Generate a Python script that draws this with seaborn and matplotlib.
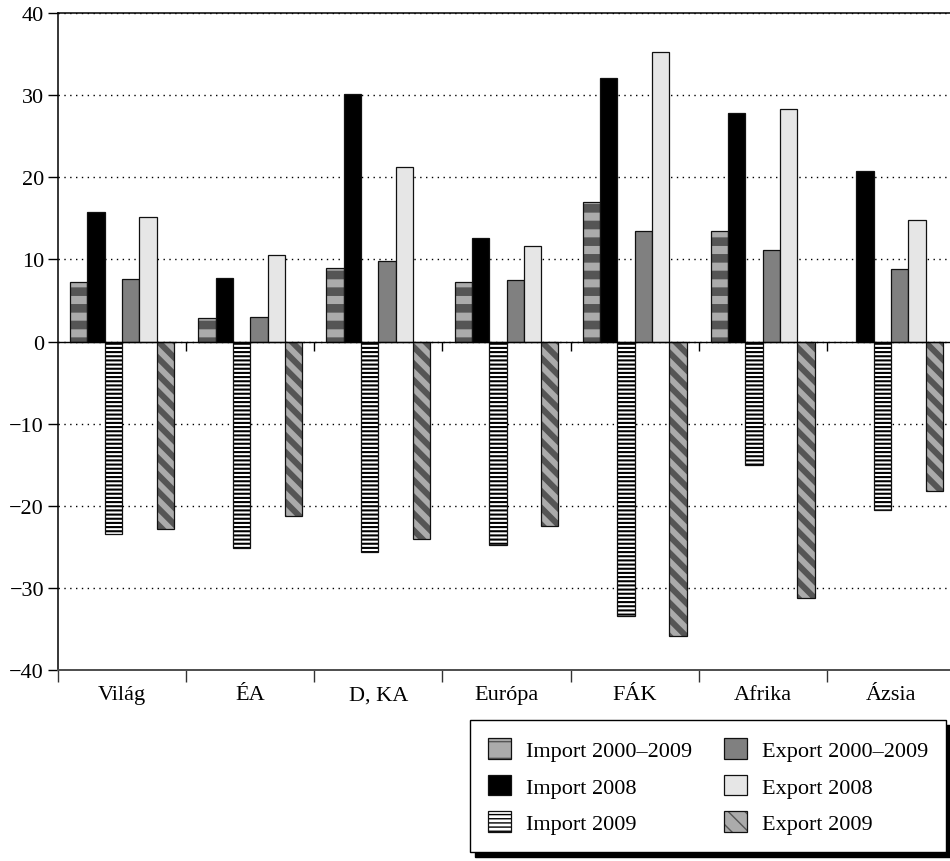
import numpy as np
import pandas as pd
import matplotlib
matplotlib.use("Agg")
import matplotlib.pyplot as plt
from matplotlib.patches import Patch
import seaborn as sns

# Regions and series (annual change, %)
regions = ["Világ", "ÉA", "D, KA", "Európa", "FÁK", "Afrika", "Ázsia"]
series = ["Import 2000–2009", "Import 2008", "Import 2009",
          "Export 2000–2009", "Export 2008", "Export 2009"]

import_2000_2009 = [7.3, 2.9, 8.9, 7.2, 17.0, 13.5, np.nan]
import_2008 = [15.8, 7.7, 30.1, 12.6, 32.1, 27.8, 20.8]
import_2009 = [-23.4, -25.1, -25.6, -24.8, -33.4, -15.0, -20.5]
export_2000_2009 = [7.6, 3.0, 9.8, 7.5, 13.5, 11.1, 8.8]
export_2008 = [15.2, 10.5, 21.2, 11.6, 35.3, 28.3, 14.8]
export_2009 = [-22.8, -21.3, -24.0, -22.5, -35.8, -31.2, -18.2]

yticks = [-40, -30, -20, -10, 0, 10, 20, 30, 40]

values = [import_2000_2009, import_2008, import_2009,
          export_2000_2009, export_2008, export_2009]
df = pd.DataFrame([
    {"region": r, "series": s, "value": v}
    for s, vals in zip(series, values)
    for r, v in zip(regions, vals)
]).dropna()

sns.set_style("white")
plt.rcParams["font.family"] = ["Liberation Serif", "DejaVu Serif"]
plt.rcParams["axes.unicode_minus"] = True
FS = 16

# fill / hatch styles per series
styles = {
    "Import 2000–2009": dict(facecolor="#ababab", hatch="-", hatchcolor="#555555", hlw=6.2),
    "Import 2008": dict(facecolor="#000000", hatch=None, hatchcolor=None, hlw=1.0),
    "Import 2009": dict(facecolor="#ffffff", hatch="----", hatchcolor="#000000", hlw=1.5),
    "Export 2000–2009": dict(facecolor="#808080", hatch=None, hatchcolor=None, hlw=1.0),
    "Export 2008": dict(facecolor="#e6e6e6", hatch=None, hatchcolor=None, hlw=1.0),
    "Export 2009": dict(facecolor="#ababab", hatch="\\\\", hatchcolor="#555555", hlw=4.3),
}


def apply_style(p, st):
    p.set_facecolor(st["facecolor"])
    p.set_edgecolor("#111111")
    p.set_linewidth(0.9)
    if st["hatch"]:
        p.set_hatch(st["hatch"])
        if hasattr(p, "set_hatch_linewidth"):
            p.set_hatch_linewidth(st["hlw"])
        if hasattr(p, "set_hatchcolor"):
            p.set_hatchcolor(st["hatchcolor"])
        else:
            p._hatch_color = matplotlib.colors.to_rgba(st["hatchcolor"])


fig = plt.figure(figsize=(9.5, 8.62), dpi=100)
ax = fig.add_axes([58 / 950, 1 - 671 / 862, (955 - 58) / 950, (671 - 14) / 862])

sns.barplot(data=df, x="region", y="value", hue="series", order=regions,
            hue_order=series, width=0.81, gap=0, legend=False, ax=ax, zorder=3)

for cont, s in zip(ax.containers, series):
    for p in cont.patches:
        apply_style(p, styles[s])

ax.set_xlim(-0.5, len(regions) - 0.5)
ax.set_ylim(-40, 40)
ax.set_xlabel("")
ax.set_ylabel("")

# y axis
ax.set_yticks(yticks)
ax.tick_params(axis="y", direction="out", length=7, width=1, pad=3,
               labelsize=FS, left=True, color="black")
for t in ax.get_yticklabels():
    t.set_color("black")

# x axis: boundary ticks, names in the middle of each region
bounds = np.arange(-0.5, len(regions), 1.0)
ax.set_xticks(bounds)
ax.set_xticklabels([])
ax.set_xticks(np.arange(len(regions)), minor=True)
ax.set_xticklabels(regions, minor=True, fontsize=FS, color="black")
ax.tick_params(axis="x", which="major", direction="out", length=8.5, width=1,
               color="#333333", bottom=True)
ax.tick_params(axis="x", which="minor", length=0, pad=11)

# grid
ax.yaxis.grid(True, color="black", linestyle=(0, (1, 3.2)), linewidth=1.0, zorder=0)
ax.xaxis.grid(False)
ax.set_axisbelow(True)

# zero line with boundary ticks below it
ax.axhline(0, color="black", linewidth=1.0, zorder=4)
ax.vlines(bounds[1:], -1.2, 0, color="black", linewidth=1.0, zorder=4)

for side in ["left", "top"]:
    ax.spines[side].set_color("black")
    ax.spines[side].set_linewidth(1.1)
ax.spines["bottom"].set_color("#4d4d4d")
ax.spines["bottom"].set_linewidth(1.4)
ax.spines["right"].set_visible(False)

# legend
handles = []
for s in series:
    h = Patch(label=s)
    apply_style(h, styles[s])
    handles.append(h)
leg = fig.legend(handles=handles, loc="lower left",
                 bbox_to_anchor=(470 / 950, 1 - 853 / 862),
                 bbox_transform=fig.transFigure, borderaxespad=0,
                 ncol=2, fontsize=FS, frameon=True, fancybox=False,
                 handlelength=1.05, handleheight=1.05, handletextpad=0.65,
                 columnspacing=1.45, labelspacing=0.62, borderpad=0.8,
                 shadow={"ox": 3.6, "oy": -3.6, "color": "black", "alpha": 1})
leg.get_frame().set_edgecolor("black")
leg.get_frame().set_linewidth(1.0)
leg.get_frame().set_facecolor("white")
leg.get_frame().set_alpha(1)
for t in leg.get_texts():
    t.set_color("black")

fig.savefig("out.png", dpi=100, facecolor="white")
